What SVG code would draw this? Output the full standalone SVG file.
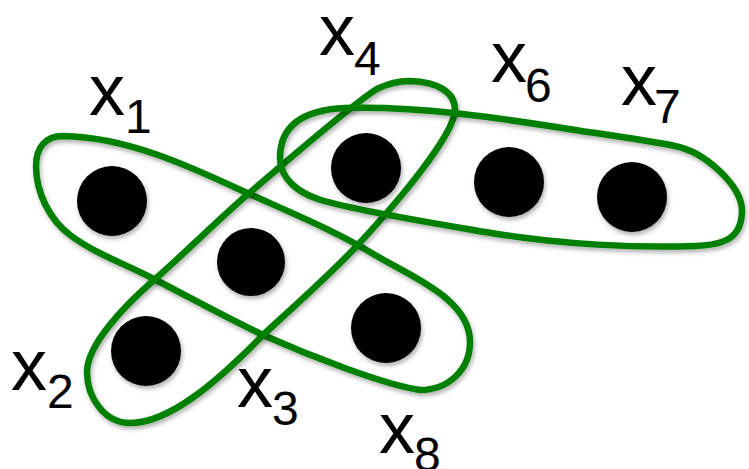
<svg xmlns="http://www.w3.org/2000/svg" width="749" height="469" viewBox="0 0 749 469">
<defs>
<filter id="sh" x="-10%" y="-10%" width="120%" height="130%">
<feDropShadow dx="1.5" dy="3" stdDeviation="2" flood-color="#000" flood-opacity="0.3"/>
</filter>
<style>
.edge{fill:none;stroke:#008000;stroke-width:6.5;filter:url(#sh)}
.dot{fill:#000;filter:url(#sh)}
.lbl{font-family:"Liberation Sans",Arial,sans-serif;fill:#000}
.v{font-size:72px}
.s{font-size:48px}
</style>
</defs>
<rect width="749" height="469" fill="#fff"/>
<g id="connectors">
<path id="e1" class="edge" d="M63,136 C126,137 187,165 245,192 C289,212 334,230 375,255 C412,277 470,299 470,342 C470,370 448,390 420,390 C385,385 310,356 263,335 C225,317 189,297 152,278 C124.5,263.7 94.8,253.6 70,235 C50,220 36,193 36,166 C36,148 45,136 63,136 Z"/>
<path id="e2" class="edge" d="M410,81 C438,82 455,92 455,110 C454,135 400,200 353,250 C323,281 290,310 263,335 C218,381 170,423 130,423 C105,423 87,398 87,372 C87,345 124,306 154,280 C184,254 222,216 247,195 C287,161 352,104 377,89 C389,83 398,81 410,81 Z"/>
<path id="e3" class="edge" d="M280,158 C280,128 300,110 345,108 C420,106 500,118 575,130 C608,135 650,141 675,146 C705,152 741,185 742,210 C742,238 725,245 695,246 C640,248 560,245 485,232 C445,225 350,210 318,199 C300,193 280,180 280,158 Z"/>
</g>
<g id="nodes">
<g id="x1"><circle class="dot" cx="112" cy="201" r="35"/><text class="lbl"><tspan class="v" x="89" y="115">x</tspan><tspan class="s" x="125" y="133">1</tspan></text></g>
<g id="x2"><circle class="dot" cx="146" cy="351" r="35"/><text class="lbl"><tspan class="v" x="11" y="390">x</tspan><tspan class="s" x="47" y="408">2</tspan></text></g>
<g id="x3"><circle class="dot" cx="251" cy="262" r="34"/><text class="lbl"><tspan class="v" x="237" y="407">x</tspan><tspan class="s" x="272" y="425">3</tspan></text></g>
<g id="x4"><circle class="dot" cx="366" cy="168" r="35"/><text class="lbl"><tspan class="v" x="319" y="55">x</tspan><tspan class="s" x="354" y="75">4</tspan></text></g>
<g id="x6"><circle class="dot" cx="509" cy="182" r="35"/><text class="lbl"><tspan class="v" x="491" y="82">x</tspan><tspan class="s" x="525" y="102">6</tspan></text></g>
<g id="x7"><circle class="dot" cx="632" cy="197" r="35"/><text class="lbl"><tspan class="v" x="621" y="105">x</tspan><tspan class="s" x="654" y="123">7</tspan></text></g>
<g id="x8"><circle class="dot" cx="386" cy="328" r="35"/><text class="lbl"><tspan class="v" x="379" y="453">x</tspan><tspan class="s" x="414" y="471">8</tspan></text></g>
</g>
</svg>
